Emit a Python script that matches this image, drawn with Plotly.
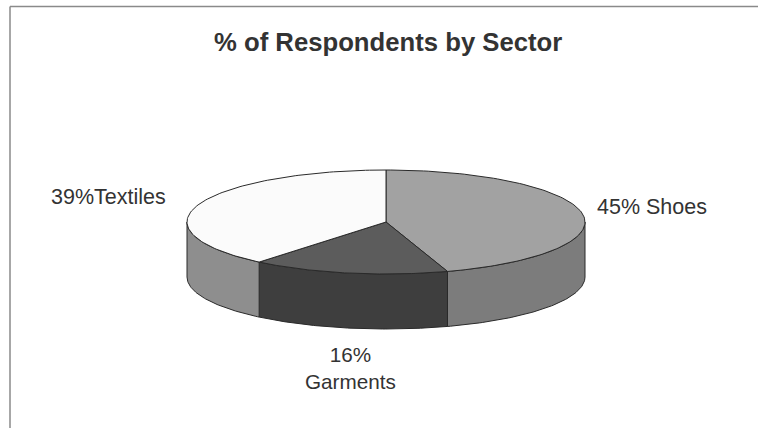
import numpy as np
import plotly.graph_objects as go

# data
sectors = ["Shoes", "Garments", "Textiles"]
shares = [45, 16, 39]
top_colors = ["#a2a2a2", "#5c5c5c", "#fbfbfb"]
side_colors = ["#7c7c7c", "#3e3e3e", "#8e8e8e"]

# pie geometry in pixel space
CX, CY, RX, RY, DEPTH = 386, 222, 199, 52, 55


def pt(theta, dy=0):
    # theta in degrees, clockwise from 12 o'clock
    t = np.radians(theta)
    return CX + RX * np.sin(t), CY - RY * np.cos(t) + dy


fig = go.Figure()
edges = np.concatenate([[0], np.cumsum(shares) / sum(shares) * 360])

# side walls (front half only: 90..270 deg)
for i, name in enumerate(sectors):
    a0, a1 = max(edges[i], 90), min(edges[i + 1], 270)
    if a1 <= a0:
        continue
    th = np.linspace(a0, a1, 80)
    xt, yt = pt(th)
    xb, yb = pt(th[::-1], DEPTH)
    fig.add_trace(go.Scatter(x=np.r_[xt, xb, xt[0]], y=np.r_[yt, yb, yt[0]], fill="toself",
                             fillcolor=side_colors[i], mode="lines", line=dict(color="#2a2a2a", width=1),
                             hoverinfo="skip", showlegend=False))

# top faces
for i, name in enumerate(sectors):
    th = np.linspace(edges[i], edges[i + 1], 120)
    xs, ys = pt(th)
    fig.add_trace(go.Scatter(x=np.r_[CX, xs, CX], y=np.r_[CY, ys, CY], fill="toself",
                             fillcolor=top_colors[i], mode="lines", line=dict(color="#2a2a2a", width=1),
                             name=name, text=f"{shares[i]}% {name}", hoverinfo="text", showlegend=False))

font = "Liberation Sans, Arial"
lbl = dict(showarrow=False, xref="x", yref="y")
fig.add_annotation(x=652, y=207, text=f"{shares[0]}% {sectors[0]}",
                   font=dict(family=font, size=21.5, color="#333333"), **lbl)
fig.add_annotation(x=350, y=368, text=f"{shares[1]}%<br>{sectors[1]}",
                   font=dict(family=font, size=20.7, color="#333333"), **lbl)
fig.add_annotation(x=108, y=197, text=f"{shares[2]}%{sectors[2]}",
                   font=dict(family=font, size=21.5, color="#333333"), **lbl)
fig.add_annotation(x=388, y=42, text="<b>% of Respondents by Sector</b>",
                   font=dict(family=font, size=25.7, color="#333333"), **lbl)

fig.add_shape(type="line", x0=10, x1=758, y0=6.5, y1=6.5, line=dict(color="#8a8a8a", width=1.5))
fig.add_shape(type="line", x0=10, x1=10, y0=6.5, y1=428, line=dict(color="#8a8a8a", width=1.5))

fig.update_layout(
    width=758, height=428, margin=dict(l=0, r=0, t=0, b=0),
    paper_bgcolor="white", plot_bgcolor="white",
)
fig.update_xaxes(range=[0, 758], visible=False, fixedrange=True)
fig.update_yaxes(range=[428, 0], visible=False, fixedrange=True)
fig.write_html("out.html", config={"displayModeBar": False},
               post_script="document.body.style.margin='0';")
